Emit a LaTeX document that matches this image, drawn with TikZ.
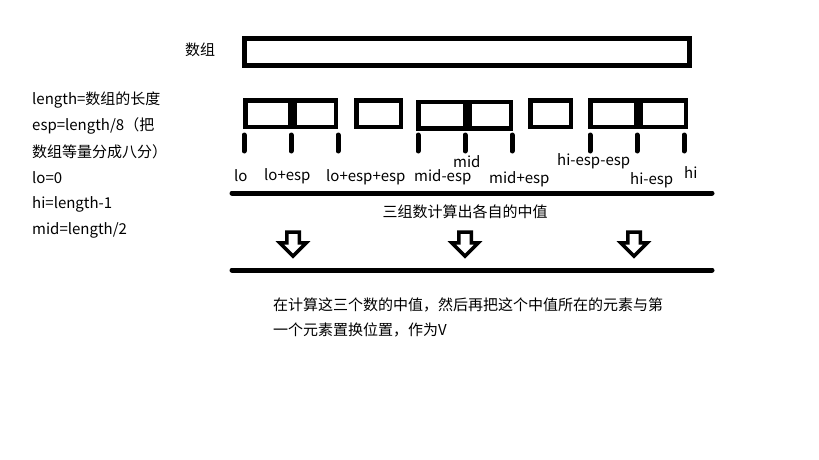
\documentclass[tikz,border=0pt]{standalone}
\usepackage{fontspec}
\setmainfont{Noto Sans CJK SC}
\usetikzlibrary{positioning, shapes.arrows}
\tikzset{cell/.style={draw, line width=4.5pt, minimum height=26.5pt, inner sep=0pt},
    rule/.style={line width=5pt, line cap=round},
    tick/.style={line width=5pt, line cap=round},
    downarrow/.style={single arrow, draw, line width=3.5pt, shape border rotate=270,
        minimum height=24pt, minimum width=23pt, inner sep=4.5pt,
        single arrow head extend=7pt, single arrow head indent=0pt},
    lbl/.style={anchor=west, inner sep=0pt, font=\fontsize{15pt}{18pt}\selectfont}}

\begin{document}
\begin{tikzpicture}[x=1pt, y=-1pt]
        \useasboundingbox (0,0) rectangle (819,460);
        % the whole array
        \node[lbl] (array-lbl) at (185,50) {数组};
        \node[cell, line width=5pt, minimum width=445pt, minimum height=27pt] (array) at (467,52) {};
        % definitions
        \node[lbl] (def-length) at (32,100) {length=数组的长度};
        \node[lbl] (def-esp) at (32,126) {esp=length/8（把};
        \node[lbl] (def-esp2) at (32,152) {数组等量分成八分）};
        \node[lbl] (def-lo) at (32,178) {lo=0};
        \node[lbl] (def-hi) at (32,204) {hi=length-1};
        \node[lbl] (def-mid) at (32,230) {mid=length/2};
        % eight parts
        \node[cell, minimum width=44.5pt] (part1) at (267.5,113.5) {};
        \node[cell, minimum width=41.5pt] (part2) at (315,113.5) {};
        \node[cell, minimum width=44.5pt] (part3) at (378.5,113.5) {};
        \node[cell, minimum width=46.5pt] (part4) at (441.5,115) {};
        \node[cell, minimum width=41.5pt] (part5) at (490,115) {};
        \node[cell, minimum width=40.5pt] (part6) at (550.5,113.5) {};
        \node[cell, minimum width=45.5pt] (part7) at (613,113.5) {};
        \node[cell, minimum width=45.5pt] (part8) at (663,113.5) {};
        \foreach \x in {244,291,338,418,465,512,590,637,684}
            \draw[tick] (\x,135) -- (\x,151);
        % index labels
        \node[lbl] (lo) at (234,176) {lo};
        \node[lbl] (lo-esp) at (264,176) {lo+esp};
        \node[lbl] (lo-esp-esp) at (326,177) {lo+esp+esp};
        \node[lbl] (mid) at (453,162) {mid};
        \node[lbl] (mid-minus) at (414,177) {mid-esp};
        \node[lbl] (mid-plus) at (489,179) {mid+esp};
        \node[lbl] (hi-esp-esp) at (557,161) {hi-esp-esp};
        \node[lbl] (hi-esp) at (630,180) {hi-esp};
        \node[lbl] (hi) at (684,173) {hi};
        % medians of the three groups
        \coordinate (rule1-a) at (232,193);
        \coordinate (rule1-b) at (712,193);
        \draw[rule] (rule1-a) -- (rule1-b);
        \node[lbl, anchor=center] (three) at (465,212) {三组数计算出各自的中值};
        \node[downarrow] (down1) at (293,241) {};
        \node[downarrow] (down2) at (465,241) {};
        \node[downarrow] (down3) at (634,241) {};
        \coordinate (rule2-a) at (232,270);
        \coordinate (rule2-b) at (712,270);
        \draw[rule] (rule2-a) -- (rule2-b);
        \node[lbl] (result1) at (273,305) {在计算这三个数的中值，然后再把这个中值所在的元素与第};
        \node[lbl] (result2) at (273,330) {一个元素置换位置，作为V};
    \end{tikzpicture}
\end{document}
